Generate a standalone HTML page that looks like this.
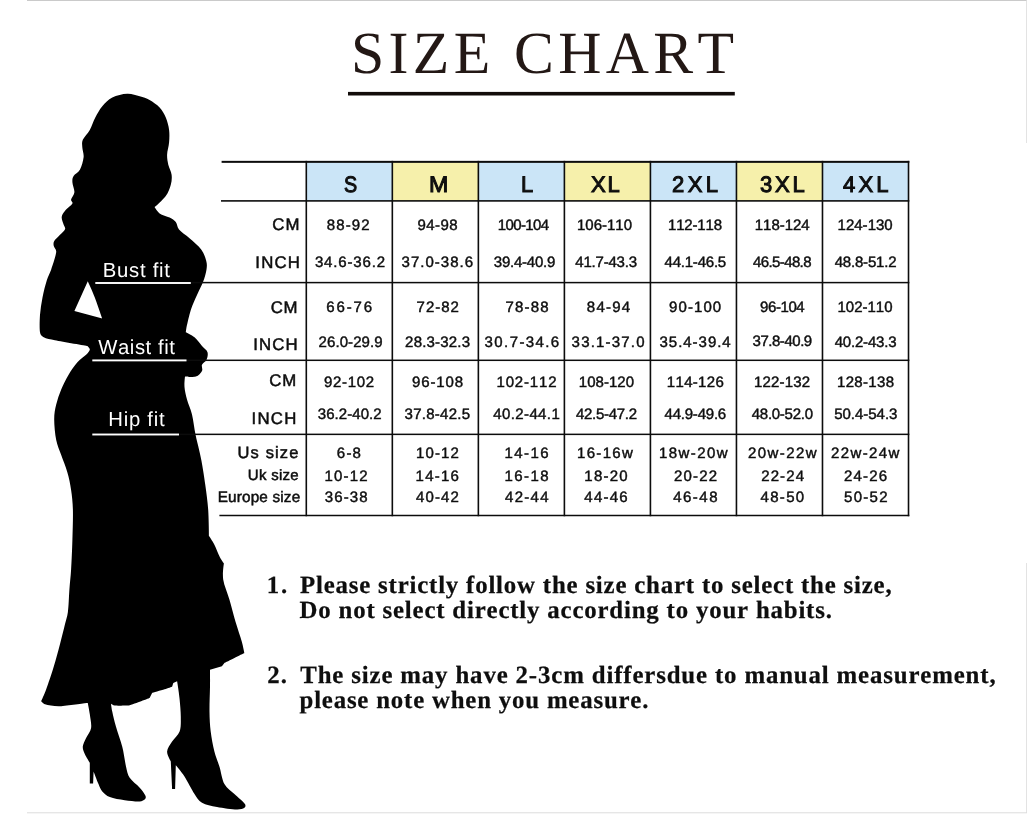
<!DOCTYPE html>
<html lang="en"><head><meta charset="utf-8"><title>Size Chart</title>
<style>
html,body{margin:0;padding:0;background:#fff;}
body{width:1027px;height:815px;position:relative;overflow:hidden;font-family:"Liberation Sans", Arial, sans-serif;font-kerning:none;text-rendering:geometricPrecision;}
.abs,.h,.d,.l,.f,.n,.title{position:absolute;white-space:nowrap;margin:0;padding:0;}
.h{font-size:22.5px;line-height:27px;color:#0e0e0e;transform:scaleX(0.9);transform-origin:0 0;-webkit-text-stroke:1.0px #0e0e0e;}
.d{font-size:15.0px;line-height:18px;color:#0e0e0e;transform:scaleX(1.0);transform-origin:0 0;-webkit-text-stroke:0.45px #0e0e0e;}
.l{color:#0e0e0e;-webkit-text-stroke:0.5px #0e0e0e;}
.f{color:#fff;font-size:20.3px;line-height:24px;}
.title{font-family:"Liberation Serif", "Times New Roman", serif;font-size:59.8px;line-height:72px;color:#231815;font-weight:400;}
.n{font-family:"Liberation Serif", "Times New Roman", serif;font-weight:700;font-size:24.8px;line-height:30px;color:#0e0e0e;-webkit-text-stroke:0.25px #0e0e0e;}
</style></head>
<body>
<svg class="abs" style="left:0;top:0" width="1027" height="815" viewBox="0 0 1027 815"><rect x="27" y="0" width="1000" height="0.9" fill="#c4c4c4"/><rect x="27" y="812" width="1000" height="1.4" fill="#e6e6e6"/><rect x="1026.2" y="0" width="0.8" height="143" fill="#dcdcdc"/><rect x="1026.2" y="563" width="0.8" height="250" fill="#dcdcdc"/></svg>
<svg class="abs" style="left:0;top:0" width="1027" height="815" viewBox="0 0 1027 815" aria-label="woman silhouette"><path fill="#000" fill-rule="evenodd" d="M127.2 93.7C131.8 93.5 136.0 95.2 139.7 96.2C143.4 97.2 146.3 98.0 149.6 99.9C152.9 101.8 156.9 104.5 159.6 107.4C162.3 110.3 164.2 113.7 165.8 117.4C167.4 121.2 168.6 125.8 169.1 129.9C169.6 134.1 169.4 138.2 169.1 142.3C168.8 146.5 167.2 151.1 167.1 154.8C167.0 158.5 167.6 161.4 168.3 164.7C169.1 168.0 171.2 171.4 171.6 174.7C172.0 178.0 171.8 181.2 170.8 184.7C169.8 188.2 168.5 192.2 165.8 195.9C163.1 199.6 154.6 207.1 154.6 207.1C154.6 207.1 157.1 211.7 159.6 213.4C162.1 215.2 166.9 216.2 169.6 217.6C172.3 219.0 174.2 220.1 175.8 222.1C177.4 224.1 176.9 227.1 179.0 229.6C181.3 232.3 185.8 235.0 189.5 238.3C193.2 241.6 198.4 245.8 201.2 249.5C204.0 253.2 205.3 257.4 206.2 260.7C207.1 264.0 207.0 266.0 206.5 269.4C206.0 272.9 204.8 277.2 203.2 281.5C201.6 285.8 199.1 290.2 197.0 294.9C194.9 299.6 192.6 304.5 190.8 309.9C189.1 315.3 187.3 323.6 186.5 327.3C186.1 329.3 185.8 332.3 185.8 332.3C185.8 332.3 191.8 335.0 194.5 337.3C197.2 339.6 199.8 343.5 202.0 346.0C204.2 348.5 206.8 349.9 207.5 352.2C208.2 354.5 207.4 357.6 206.5 359.7C205.6 361.8 202.8 362.8 202.0 364.7C201.2 366.6 203.0 368.9 202.0 370.9C201.0 372.9 198.6 375.7 195.8 376.6C193.0 377.6 185.0 376.6 185.0 376.6C185.0 376.6 184.2 383.3 184.5 387.1C184.8 390.9 185.8 395.0 187.0 399.6C188.2 404.2 190.6 408.7 192.0 414.5C193.4 420.3 194.3 428.7 195.5 434.5C196.7 440.3 198.0 445.0 199.0 449.4C200.0 453.8 200.7 456.3 201.5 461.0C202.6 466.9 204.2 476.8 205.3 484.9C206.4 493.0 207.6 501.3 208.2 509.8C208.8 518.3 209.0 536.0 209.0 536.0C209.0 536.0 212.6 541.2 214.4 544.7C216.2 548.2 218.3 554.1 219.9 557.2C221.2 559.8 223.9 563.4 223.9 563.4C223.9 563.4 222.3 573.6 223.2 579.6C224.1 585.6 227.3 592.4 229.4 599.5C231.5 606.6 233.5 614.9 235.6 622.0C237.7 629.1 240.4 636.7 241.9 641.9C243.1 646.3 244.4 653.1 244.4 653.1C244.4 653.1 237.7 656.4 234.4 658.1C231.1 659.8 224.4 663.1 224.4 663.1L221.9 666.3L210.0 669.8C210.0 669.8 210.1 680.0 210.0 686.8C209.9 693.8 209.4 704.2 209.5 711.7C209.6 719.2 209.9 725.0 210.7 731.6C211.5 738.2 212.9 745.8 214.4 751.6C215.9 757.4 217.7 761.1 219.4 766.5C221.1 771.9 221.9 779.4 224.4 784.0C226.9 788.6 231.0 790.7 234.4 794.0C237.8 797.3 243.2 801.6 244.9 803.9C245.8 805.1 245.7 806.8 244.4 807.7C243.1 808.6 240.0 809.5 236.9 809.4C232.3 809.3 222.8 808.0 217.0 806.9C211.2 805.8 205.8 804.9 202.0 802.7C198.2 800.6 197.1 797.8 194.5 794.0C191.6 789.6 187.6 781.3 184.5 776.5C181.4 771.7 175.8 765.3 175.8 765.3L175.1 789.0L172.1 789.0L170.8 761.5C170.8 761.5 166.9 754.9 167.1 751.6C167.3 748.3 170.0 744.9 172.1 741.6C174.2 738.3 178.1 735.8 179.6 731.6C181.1 727.5 180.8 722.1 180.8 716.7C180.8 711.3 180.1 704.6 179.6 699.2C179.1 693.8 178.0 687.3 177.6 684.3C177.4 683.1 177.1 681.3 177.1 681.3L173.3 683.0L172.1 686.8C172.1 686.8 167.6 688.4 164.6 689.3C161.3 690.3 152.1 693.0 152.1 693.0L149.6 698.0C149.6 698.0 143.2 700.5 139.7 701.7C136.2 703.0 128.5 705.5 128.5 705.5C128.5 705.5 117.6 705.8 114.7 705.5C113.1 705.3 111.0 703.7 111.0 703.7C111.0 703.7 111.6 708.5 112.3 711.7C113.1 715.5 114.3 720.9 116.0 726.7C117.7 732.5 120.5 740.0 122.2 746.6C123.9 753.2 124.8 761.3 126.0 766.5C127.1 771.1 127.4 774.3 129.7 777.8C132.0 781.3 137.1 784.8 139.7 787.7C142.2 790.5 144.3 793.3 145.2 795.2C145.9 796.5 146.1 797.9 145.2 798.9C144.3 799.9 142.1 801.2 139.7 801.4C136.3 801.6 129.7 800.9 124.7 800.2C119.7 799.5 113.5 798.5 109.8 797.0C106.3 795.7 104.2 793.7 102.3 791.5C100.4 789.3 99.8 787.1 98.5 784.0C97.0 780.7 93.6 771.5 93.6 771.5L93.1 783.5L89.8 783.5L89.8 762.8C89.8 762.8 86.0 756.8 84.8 754.1C83.6 751.4 82.6 749.3 82.8 746.6C83.0 743.9 84.7 741.0 86.1 737.9C87.5 734.8 90.5 731.8 91.1 727.9C91.7 724.0 90.3 718.4 89.8 714.2C89.2 710.1 87.8 703.0 87.8 703.0L86.1 703.0C86.1 703.0 66.8 706.0 59.9 706.2C53.9 706.4 48.1 705.0 45.0 704.2C43.1 703.7 41.2 701.2 41.2 701.2C41.2 701.2 44.4 694.2 46.2 689.3C48.3 683.6 51.4 674.3 53.7 666.8C56.0 659.3 58.0 651.4 59.9 644.4C61.8 637.4 63.6 629.9 64.9 624.5C66.1 619.5 67.2 617.1 67.9 612.0C68.7 606.2 68.9 596.7 69.4 589.6C69.9 582.5 70.6 577.6 71.1 569.6C71.6 561.3 72.1 549.7 72.4 539.7C72.7 529.7 73.1 518.1 72.9 509.8C72.7 501.8 72.0 496.1 71.1 489.9C70.2 483.7 69.1 478.2 67.4 472.4C65.8 466.6 63.1 460.4 61.2 455.0C59.3 449.6 57.4 445.9 56.2 440.0C55.0 434.1 54.2 425.4 54.2 419.5C54.2 413.6 55.0 409.6 56.2 404.6C57.4 399.6 59.1 394.6 61.2 389.6C63.3 384.6 65.9 379.3 68.6 374.7C71.3 370.1 74.5 365.5 77.4 362.2C80.3 358.9 84.0 356.8 86.1 354.7C87.9 352.9 89.6 351.1 89.8 349.7C90.0 348.2 87.3 346.0 87.3 346.0C87.3 346.0 62.2 341.8 54.9 340.3C50.4 339.4 46.2 338.6 43.7 337.3C41.5 336.1 40.4 334.8 40.0 332.3C39.4 328.6 39.6 320.6 40.0 314.8C40.4 309.0 41.4 303.2 42.5 297.4C43.6 291.6 45.4 284.6 46.9 279.9C48.2 275.6 49.8 273.7 51.2 269.4C52.8 264.8 55.8 255.9 56.2 252.0C56.5 249.3 54.0 247.7 53.7 245.8C53.4 243.9 53.3 242.5 54.4 240.8C56.3 238.1 63.4 232.3 64.9 229.6C65.9 227.8 64.1 226.6 63.6 224.6C63.1 222.5 61.5 219.4 61.7 217.1C61.9 214.8 63.2 213.1 64.9 210.9C66.7 208.6 71.4 205.3 72.4 203.4C73.2 202.0 70.8 201.2 71.1 199.6C71.4 197.7 74.2 195.1 74.4 192.2C74.6 189.3 72.5 184.9 72.4 182.2C72.3 179.7 72.3 178.1 73.6 176.0C74.8 173.9 78.2 172.8 79.9 169.7C81.6 166.6 83.2 161.0 83.6 157.3C84.0 153.6 82.4 150.2 82.3 147.3C82.2 144.4 81.6 142.6 82.8 139.8C84.0 136.9 87.7 133.6 89.8 129.9C91.9 126.2 93.2 121.4 95.3 117.4C97.4 113.5 99.5 109.5 102.3 106.2C105.1 102.9 108.1 99.5 112.3 97.4C116.5 95.3 122.6 93.9 127.2 93.7ZM87.8 281.2C87.8 281.2 92.4 291.2 94.8 297.4C97.2 303.6 102.3 318.6 102.3 318.6L74.4 311.1L87.8 281.2Z"/></svg>
<svg class="abs" style="left:0;top:0" width="1027" height="815" viewBox="0 0 1027 815"><rect x="306.30" y="162" width="86.03" height="39" fill="#cbe5f7"/><rect x="392.33" y="162" width="86.03" height="39" fill="#f6f0ab"/><rect x="478.36" y="162" width="86.03" height="39" fill="#cbe5f7"/><rect x="564.39" y="162" width="86.03" height="39" fill="#f6f0ab"/><rect x="650.42" y="162" width="86.03" height="39" fill="#cbe5f7"/><rect x="736.45" y="162" width="86.03" height="39" fill="#f6f0ab"/><rect x="822.48" y="162" width="86.03" height="39" fill="#cbe5f7"/><rect x="221.60" y="160.85" width="687.71" height="2.00" fill="#0c0c0c"/><rect x="221.00" y="200.10" width="688.31" height="1.60" fill="#0c0c0c"/><rect x="190.00" y="281.85" width="719.31" height="1.50" fill="#0c0c0c"/><rect x="186.00" y="359.55" width="723.31" height="1.50" fill="#0c0c0c"/><rect x="179.00" y="433.60" width="730.31" height="1.50" fill="#0c0c0c"/><rect x="219.40" y="514.75" width="689.91" height="1.50" fill="#0c0c0c"/><rect x="305.50" y="160.85" width="1.60" height="355.40" fill="#0c0c0c"/><rect x="391.53" y="160.85" width="1.60" height="355.40" fill="#0c0c0c"/><rect x="477.56" y="160.85" width="1.60" height="355.40" fill="#0c0c0c"/><rect x="563.59" y="160.85" width="1.60" height="355.40" fill="#0c0c0c"/><rect x="649.62" y="160.85" width="1.60" height="355.40" fill="#0c0c0c"/><rect x="735.65" y="160.85" width="1.60" height="355.40" fill="#0c0c0c"/><rect x="821.68" y="160.85" width="1.60" height="355.40" fill="#0c0c0c"/><rect x="907.71" y="160.85" width="1.60" height="355.40" fill="#0c0c0c"/><rect x="95.30" y="282.05" width="95.50" height="1.9" fill="#fff"/><rect x="92.30" y="359.45" width="94.20" height="1.9" fill="#fff"/><rect x="92.30" y="433.55" width="86.70" height="1.9" fill="#fff"/><rect x="348" y="91.9" width="386.8" height="3.6" fill="#120c0a"/></svg>
<div id="chart">
<span class="h" style="left:343.72px;top:171px;letter-spacing:0.000px;transform:scaleX(0.877);transform-origin:0 0;">S</span>
<span class="h" style="left:428.77px;top:171px;letter-spacing:0.000px;transform:scaleX(1.031);transform-origin:0 0;">M</span>
<span class="h" style="left:520.53px;top:171px;letter-spacing:0.000px;transform:scaleX(0.973);transform-origin:0 0;">L</span>
<span class="h" style="left:591.30px;top:171px;letter-spacing:1.768px;transform:scaleX(0.980);transform-origin:0 0;">XL</span>
<span class="h" style="left:671.82px;top:171px;letter-spacing:3.495px;transform:scaleX(0.980);transform-origin:0 0;">2XL</span>
<span class="h" style="left:760.30px;top:171px;letter-spacing:2.842px;transform:scaleX(0.980);transform-origin:0 0;">3XL</span>
<span class="h" style="left:842.50px;top:171px;letter-spacing:3.250px;transform:scaleX(0.980);transform-origin:0 0;">4XL</span>
<span class="d" style="left:326.83px;top:217px;letter-spacing:1.107px;">88-92</span>
<span class="d" style="left:417.53px;top:217px;letter-spacing:0.407px;">94-98</span>
<span class="d" style="left:497.83px;top:217px;letter-spacing:-0.643px;">100-104</span>
<span class="d" style="left:577.02px;top:217px;letter-spacing:-0.009px;">106-110</span>
<span class="d" style="left:668.02px;top:217px;letter-spacing:-0.176px;">112-118</span>
<span class="d" style="left:754.73px;top:217px;letter-spacing:-0.009px;">118-124</span>
<span class="d" style="left:837.52px;top:217px;letter-spacing:0.024px;">124-130</span>
<span class="d" style="left:314.93px;top:254px;letter-spacing:0.851px;">34.6-36.2</span>
<span class="d" style="left:401.62px;top:254px;letter-spacing:1.001px;">37.0-38.6</span>
<span class="d" style="left:493.83px;top:254px;letter-spacing:-0.236px;">39.4-40.9</span>
<span class="d" style="left:575.33px;top:254px;letter-spacing:-0.211px;">41.7-43.3</span>
<span class="d" style="left:664.52px;top:254px;letter-spacing:-0.211px;">44.1-46.5</span>
<span class="d" style="left:753.02px;top:254px;letter-spacing:-0.611px;">46.5-48.8</span>
<span class="d" style="left:834.73px;top:254px;letter-spacing:-0.199px;">48.8-51.2</span>
<span class="d" style="left:326.33px;top:299px;letter-spacing:1.857px;">66-76</span>
<span class="d" style="left:416.62px;top:299px;letter-spacing:0.957px;">72-82</span>
<span class="d" style="left:505.53px;top:299px;letter-spacing:1.157px;">78-88</span>
<span class="d" style="left:586.83px;top:299px;letter-spacing:1.207px;">84-94</span>
<span class="d" style="left:669.02px;top:299px;letter-spacing:1.097px;">90-100</span>
<span class="d" style="left:760.02px;top:299px;letter-spacing:-0.403px;">96-104</span>
<span class="d" style="left:837.52px;top:299px;letter-spacing:-0.009px;">102-110</span>
<span class="d" style="left:318.62px;top:334px;letter-spacing:0.076px;">26.0-29.9</span>
<span class="d" style="left:405.12px;top:334px;letter-spacing:0.189px;">28.3-32.3</span>
<span class="d" style="left:484.62px;top:334px;letter-spacing:1.401px;">30.7-34.6</span>
<span class="d" style="left:571.62px;top:334px;letter-spacing:1.189px;">33.1-37.0</span>
<span class="d" style="left:659.52px;top:334px;letter-spacing:0.976px;">35.4-39.4</span>
<span class="d" style="left:752.52px;top:333px;letter-spacing:-0.461px;">37.8-40.9</span>
<span class="d" style="left:834.73px;top:334px;letter-spacing:-0.199px;">40.2-43.3</span>
<span class="d" style="left:324.12px;top:374px;letter-spacing:0.657px;">92-102</span>
<span class="d" style="left:412.12px;top:374px;letter-spacing:0.837px;">96-108</span>
<span class="d" style="left:496.53px;top:374px;letter-spacing:0.824px;">102-112</span>
<span class="d" style="left:578.83px;top:374px;letter-spacing:0.024px;">108-120</span>
<span class="d" style="left:666.83px;top:374px;letter-spacing:0.307px;">114-126</span>
<span class="d" style="left:754.02px;top:374px;letter-spacing:0.191px;">122-132</span>
<span class="d" style="left:837.02px;top:374px;letter-spacing:0.324px;">128-138</span>
<span class="d" style="left:317.83px;top:406px;letter-spacing:0.051px;">36.2-40.2</span>
<span class="d" style="left:404.62px;top:406px;letter-spacing:0.251px;">37.8-42.5</span>
<span class="d" style="left:493.33px;top:406px;letter-spacing:0.376px;">40.2-44.1</span>
<span class="d" style="left:576.02px;top:406px;letter-spacing:-0.299px;">42.5-47.2</span>
<span class="d" style="left:664.52px;top:406px;letter-spacing:-0.211px;">44.9-49.6</span>
<span class="d" style="left:751.73px;top:406px;letter-spacing:-0.261px;">48.0-52.0</span>
<span class="d" style="left:834.23px;top:406px;letter-spacing:-0.024px;">50.4-54.3</span>
<span class="d" style="left:336.83px;top:445px;letter-spacing:1.206px;">6-8</span>
<span class="d" style="left:416.12px;top:445px;letter-spacing:1.082px;">10-12</span>
<span class="d" style="left:504.53px;top:445px;letter-spacing:1.407px;">14-16</span>
<span class="d" style="left:577.02px;top:445px;letter-spacing:1.317px;">16-16w</span>
<span class="d" style="left:659.02px;top:445px;letter-spacing:1.409px;">18w-20w</span>
<span class="d" style="left:748.02px;top:445px;letter-spacing:1.442px;">20w-22w</span>
<span class="d" style="left:831.02px;top:445px;letter-spacing:1.392px;">22w-24w</span>
<span class="d" style="left:324.62px;top:468px;letter-spacing:1.157px;">10-12</span>
<span class="d" style="left:415.62px;top:468px;letter-spacing:1.207px;">14-16</span>
<span class="d" style="left:504.53px;top:468px;letter-spacing:1.407px;">16-18</span>
<span class="d" style="left:584.33px;top:468px;letter-spacing:1.207px;">18-20</span>
<span class="d" style="left:674.02px;top:468px;letter-spacing:1.157px;">20-22</span>
<span class="d" style="left:761.23px;top:468px;letter-spacing:1.107px;">22-24</span>
<span class="d" style="left:844.02px;top:468px;letter-spacing:1.157px;">24-26</span>
<span class="d" style="left:324.83px;top:489px;letter-spacing:1.107px;">36-38</span>
<span class="d" style="left:416.12px;top:489px;letter-spacing:1.082px;">40-42</span>
<span class="d" style="left:505.03px;top:489px;letter-spacing:1.282px;">42-44</span>
<span class="d" style="left:584.33px;top:489px;letter-spacing:1.207px;">44-46</span>
<span class="d" style="left:673.23px;top:489px;letter-spacing:1.482px;">46-48</span>
<span class="d" style="left:760.52px;top:489px;letter-spacing:1.332px;">48-50</span>
<span class="d" style="left:844.02px;top:489px;letter-spacing:1.282px;">50-52</span>
<span class="l" style="left:272.25px;top:215px;letter-spacing:1.181px;font-size:16.8px;line-height:20px;">CM</span>
<span class="l" style="left:255.35px;top:253px;letter-spacing:1.167px;font-size:16.8px;line-height:20px;">INCH</span>
<span class="l" style="left:270.75px;top:298px;letter-spacing:0.581px;font-size:16.8px;line-height:20px;">CM</span>
<span class="l" style="left:253.35px;top:335px;letter-spacing:1.067px;font-size:16.8px;line-height:20px;">INCH</span>
<span class="l" style="left:269.25px;top:371px;letter-spacing:0.881px;font-size:16.8px;line-height:20px;">CM</span>
<span class="l" style="left:251.55px;top:409px;letter-spacing:1.267px;font-size:16.8px;line-height:20px;">INCH</span>
<span class="l" style="left:237.45px;top:443px;letter-spacing:1.147px;font-size:16.5px;line-height:20px;">Us size</span>
<span class="l" style="left:247.85px;top:467px;letter-spacing:0.261px;font-size:15px;line-height:18px;">Uk size</span>
<span class="l" style="left:217.65px;top:489px;letter-spacing:0.173px;font-size:15.3px;line-height:18px;">Europe size</span>
<span class="f" style="left:102.70px;top:259px;letter-spacing:0.749px;">Bust fit</span>
<span class="f" style="left:98.30px;top:336px;letter-spacing:0.553px;">Waist fit</span>
<span class="f" style="left:108.30px;top:408px;letter-spacing:0.732px;">Hip fit</span>
<h1 class="title" style="left:350.90px;top:17px;letter-spacing:4.377px;">SIZE CHART</h1>
<span class="n" style="left:266.82px;top:571px;letter-spacing:1.900px;">1.</span>
<span class="n" style="left:300.02px;top:571px;letter-spacing:0.827px;">Please strictly follow the size chart to select the size,</span>
<span class="n" style="left:299.52px;top:596px;letter-spacing:0.835px;">Do not select directly according to your habits.</span>
<span class="n" style="left:267.32px;top:661px;letter-spacing:1.000px;">2.</span>
<span class="n" style="left:300.23px;top:661px;letter-spacing:0.869px;">The size may have 2-3cm differsdue to manual measurement,</span>
<span class="n" style="left:299.52px;top:686px;letter-spacing:0.824px;">please note when you measure.</span>
</div>
</body></html>
